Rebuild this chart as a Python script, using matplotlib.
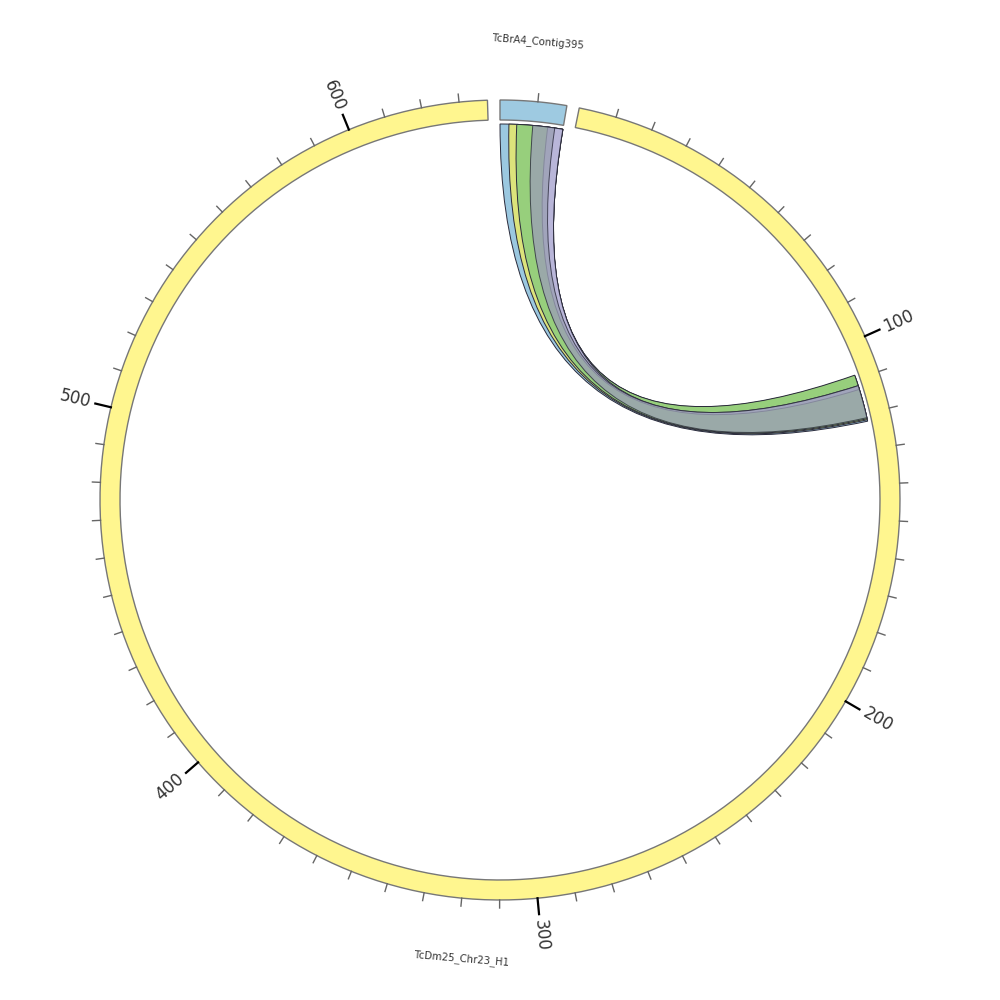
import numpy as np
import matplotlib
matplotlib.use("Agg")
import matplotlib.pyplot as plt
from matplotlib.path import Path
from matplotlib.patches import PathPatch, Polygon

# ---- data ----
seg_names = ["TcBrA4_Contig395", "TcDm25_Chr23_H1"]
seg_lengths = [17.7, 637.5]
seg_colors = ["#9ecae1", "#fff68f"]

# links from segment 0 to segment 1
link_src_start = [0.0, 2.5, 4.7, 13.4, 9.2]
link_src_end = [17.7, 17.7, 17.7, 17.7, 15.4]
link_tgt_start = [109.2, 109.0, 108.8, 111.9, 111.9]
link_tgt_end = [122.2, 121.8, 121.5, 113.0, 121.2]
link_colors = ["#9bc8e0", "#dce37b", "#97cf7c", "#b9b6d9", "#9ba0b4"]
link_alphas = [1.0, 1.0, 1.0, 1.0, 0.8]

major_step = 100
minor_step = 10

# ---- layout ----
gap_deg = 1.8
total = sum(seg_lengths)
dpu = (360 - 2 * gap_deg) / total
seg_start_deg = []
a = 0.0
for L in seg_lengths:
    seg_start_deg.append(a)
    a += L * dpu + gap_deg

R_OUT, R_IN, R_LINK = 400, 380, 376


def ang(seg, pos):
    return seg_start_deg[seg] + pos * dpu


def xy(theta_deg, r):
    t = np.radians(theta_deg)
    return r * np.sin(t), r * np.cos(t)


fig = plt.figure(figsize=(10, 10), dpi=100)
ax = fig.add_axes([0, 0, 1, 1])
ax.set_xlim(-500, 500)
ax.set_ylim(-500, 500)
ax.set_aspect("equal")
ax.axis("off")

# segments
for i, (name, L, c) in enumerate(zip(seg_names, seg_lengths, seg_colors)):
    th = np.linspace(ang(i, 0), ang(i, L), 200)
    outer = np.array([xy(t, R_OUT) for t in th])
    inner = np.array([xy(t, R_IN) for t in th[::-1]])
    poly = Polygon(np.vstack([outer, inner]), closed=True, facecolor=c,
                   edgecolor="#777777", lw=1.0, zorder=3)
    ax.add_patch(poly)
    # ticks
    for p in np.arange(minor_step, L + 1e-9, minor_step):
        t = ang(i, p)
        if abs(p % major_step) < 1e-6:
            x0, y0 = xy(t, R_OUT)
            x1, y1 = xy(t, R_OUT + 16)
            ax.plot([x0, x1], [y0, y1], color="black", lw=1.6, zorder=4)
            lx, ly = xy(t, R_OUT + 37)
            rot = 90 - t if t <= 180 else 270 - t
            ax.text(lx, ly, f"{int(p)}", rotation=rot, ha="center", va="center",
                    fontsize=12, color="#333333", rotation_mode="anchor")
        else:
            x0, y0 = xy(t, R_OUT)
            x1, y1 = xy(t, R_OUT + 8)
            ax.plot([x0, x1], [y0, y1], color="#666666", lw=1.0, zorder=4)
    # name
    mid = ang(i, L / 2)
    nx, ny = xy(mid, R_OUT + 60)
    if mid < 90 or mid > 270:
        rot = -mid
    else:
        rot = 180 - mid
    ax.text(nx, ny, name, rotation=rot, ha="center", va="center", fontsize=7.3,
            color="#333333", rotation_mode="anchor")


def arc_pts(t0, t1, r, n=40):
    return [xy(t, r) for t in np.linspace(t0, t1, n)]


# links
for s0, s1, t0, t1, c, al in zip(link_src_start, link_src_end, link_tgt_start,
                                 link_tgt_end, link_colors, link_alphas):
    a0, a1 = ang(0, s0), ang(0, s1)
    b0, b1 = ang(1, t0), ang(1, t1)
    verts = []
    codes = []
    pts = arc_pts(a0, a1, R_LINK)
    verts += pts
    codes += [Path.MOVETO] + [Path.LINETO] * (len(pts) - 1)
    verts += [(0, 0), xy(b0, R_LINK)]
    codes += [Path.CURVE3, Path.CURVE3]
    pts = arc_pts(b0, b1, R_LINK)[1:]
    verts += pts
    codes += [Path.LINETO] * len(pts)
    verts += [(0, 0), xy(a0, R_LINK)]
    codes += [Path.CURVE3, Path.CURVE3]
    verts.append(xy(a0, R_LINK))
    codes.append(Path.CLOSEPOLY)
    patch = PathPatch(Path(verts, codes), facecolor=c, alpha=al,
                      edgecolor="#2a2a3a", lw=0.7, zorder=2)
    ax.add_patch(patch)

fig.savefig("out.png", dpi=100, facecolor="white")
